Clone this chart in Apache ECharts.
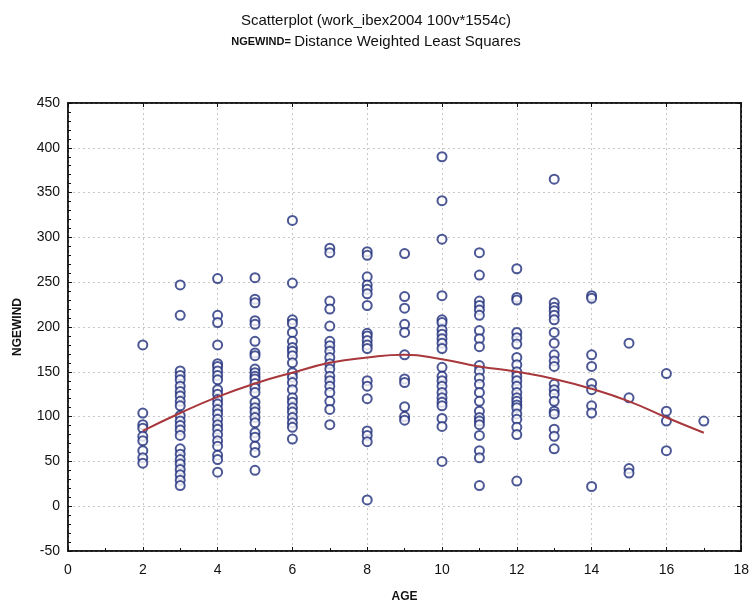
<!DOCTYPE html>
<html>
<head>
<meta charset="utf-8">
<script src="https://cdn.jsdelivr.net/npm/echarts@6/dist/echarts.min.js"></script>
<style>
  html, body { margin: 0; padding: 0; background: #fff; }
  #chart { width: 752px; height: 608px; }
</style>
</head>
<body>
<div id="chart"></div>
<script>
// NGEWIND values, one array per AGE
var age2 = [180, 104, 91, 87, 78, 73, 62, 54, 48];
var age3 = [247, 213, 151, 146, 141, 134, 128, 123, 117, 112, 101, 95, 90, 85, 79, 64, 58, 52, 47, 41, 35, 29, 23];
var age4 = [254, 213, 205, 180, 159, 156, 151, 146, 141, 130, 125, 119, 114, 108, 103, 97, 91, 86, 80, 73, 67, 57, 52, 38];
var age5 = [255, 231, 227, 207, 203, 184, 171, 168, 153, 149, 145, 142, 137, 132, 127, 116, 110, 105, 99, 93, 82, 77, 67, 60, 40];
var age6 = [319, 249, 208, 204, 194, 184, 177, 173, 168, 160, 149, 144, 138, 130, 121, 116, 110, 105, 99, 93, 88, 75];
var age7 = [288, 283, 229, 220, 201, 184, 179, 173, 166, 159, 153, 145, 140, 134, 127, 117, 108, 91];
var age8 = [284, 280, 256, 247, 242, 237, 224, 193, 190, 185, 180, 176, 140, 134, 120, 84, 79, 72, 7];
var age9 = [282, 234, 221, 203, 194, 169, 142, 138, 111, 100, 96];
var age10 = [390, 341, 298, 235, 208, 205, 197, 192, 187, 182, 176, 155, 145, 140, 134, 127, 121, 116, 112, 98, 89, 50];
var age11 = [283, 258, 229, 224, 219, 213, 196, 187, 178, 157, 151, 143, 136, 127, 117, 106, 99, 95, 91, 79, 62, 54, 23];
var age12 = [265, 233, 230, 194, 188, 181, 166, 158, 150, 145, 140, 134, 127, 121, 117, 113, 110, 103, 97, 88, 80, 28];
var age13 = [365, 227, 222, 218, 213, 208, 194, 182, 169, 162, 156, 136, 130, 125, 117, 106, 103, 86, 78, 64];
var age14 = [235, 232, 169, 156, 137, 130, 112, 104, 22];
var age15 = [182, 121, 42, 37];
var age16 = [148, 106, 95, 62];
var age17 = [95];

var ages = [2, 3, 4, 5, 6, 7, 8, 9, 10, 11, 12, 13, 14, 15, 16, 17];
var columns = [age2, age3, age4, age5, age6, age7, age8, age9, age10, age11, age12, age13, age14, age15, age16, age17];

// distance weighted least squares curve, read at each age
var fitValues = [84, 104, 122, 137, 149, 160, 166, 169, 164, 156, 150, 142, 131, 117, 99, 82];

var xTicks = [0, 2, 4, 6, 8, 10, 12, 14, 16, 18];
var yTicks = [-50, 0, 50, 100, 150, 200, 250, 300, 350, 400, 450];

var points = [];
for (var i = 0; i < ages.length; i++) {
  for (var j = 0; j < columns[i].length; j++) {
    points.push([ages[i], columns[i][j]]);
  }
}
var fitLine = ages.map(function (a, k) { return [a, fitValues[k]]; });

var chart = echarts.init(document.getElementById('chart'), null, { renderer: 'canvas' });

var labelFont = 'Liberation Sans, Arial, sans-serif';
var gridDash = { color: '#c8c8c8', type: [2, 3], width: 1 };

var option = {
  backgroundColor: '#fff',
  animation: false,
  title: {
    text: 'Scatterplot (work_ibex2004 100v*1554c)',
    subtext: '{b|NGEWIND=} {n|Distance Weighted Least Squares}',
    left: 'center',
    top: 8,
    itemGap: 6,
    textStyle: { fontFamily: labelFont, fontSize: 15, fontWeight: 'normal', color: '#111' },
    subtextStyle: {
      rich: {
        b: { fontFamily: labelFont, fontSize: 11, fontWeight: 'bold', color: '#111' },
        n: { fontFamily: labelFont, fontSize: 15, color: '#111' }
      }
    }
  },
  grid: {
    left: 68, right: 10, top: 103, bottom: 56,
    show: true,
    borderColor: '#111',
    borderWidth: 1.5,
    containLabel: false
  },
  xAxis: [
    {
      type: 'value',
      min: 0, max: 18, interval: 2,
      name: 'AGE',
      nameLocation: 'middle',
      nameGap: 40,
      nameTextStyle: { fontFamily: labelFont, fontSize: 12, fontWeight: 'bold', color: '#111' },
      axisLine: { onZero: false, lineStyle: { color: '#111', width: 1.5 } },
      axisTick: { inside: true, length: 4, lineStyle: { color: '#111' } },
      minorTick: { show: true, splitNumber: 2, length: 3, lineStyle: { color: '#111' } },
      axisLabel: {
        fontFamily: labelFont, fontSize: 14, color: '#111', margin: 12,
        formatter: function (v) { return xTicks.indexOf(v) >= 0 ? String(v) : ''; }
      },
      splitLine: { show: true, lineStyle: gridDash }
    },
    {
      type: 'value',
      position: 'top',
      min: 0, max: 18, interval: 2,
      axisLine: { onZero: false, lineStyle: { color: '#111', width: 1.5 } },
      axisTick: { inside: true, length: 4, lineStyle: { color: '#111' } },
      axisLabel: { show: false },
      splitLine: { show: false }
    }
  ],
  yAxis: [
    {
      type: 'value',
      min: -50, max: 450, interval: 50,
      name: 'NGEWIND',
      nameLocation: 'middle',
      nameGap: 44,
      nameTextStyle: { fontFamily: labelFont, fontSize: 12, fontWeight: 'bold', color: '#111' },
      axisLine: { show: true, onZero: false, lineStyle: { color: '#111', width: 1.5 } },
      axisTick: { inside: true, length: 4, lineStyle: { color: '#111' } },
      minorTick: { show: true, splitNumber: 5, length: 3, lineStyle: { color: '#111' } },
      axisLabel: {
        fontFamily: labelFont, fontSize: 14, color: '#111', margin: 8,
        formatter: function (v) { return yTicks.indexOf(v) >= 0 ? String(v) : ''; }
      },
      splitLine: { show: true, lineStyle: gridDash }
    },
    {
      type: 'value',
      position: 'right',
      min: -50, max: 450, interval: 50,
      axisLine: { show: true, onZero: false, lineStyle: { color: '#111', width: 1.5 } },
      axisTick: { inside: true, length: 4, lineStyle: { color: '#111' } },
      axisLabel: { show: false },
      splitLine: { show: false }
    }
  ],
  series: [
    {
      type: 'scatter',
      data: points,
      symbol: 'emptyCircle',
      symbolSize: 9,
      itemStyle: { color: '#1f2d7a', borderColor: '#1f2d7a', borderWidth: 1.5 },
      z: 3
    },
    {
      type: 'line',
      data: fitLine,
      smooth: true,
      showSymbol: false,
      lineStyle: { color: '#a8383c', width: 2 },
      z: 4
    }
  ]
};

chart.setOption(option);
</script>
</body>
</html>
